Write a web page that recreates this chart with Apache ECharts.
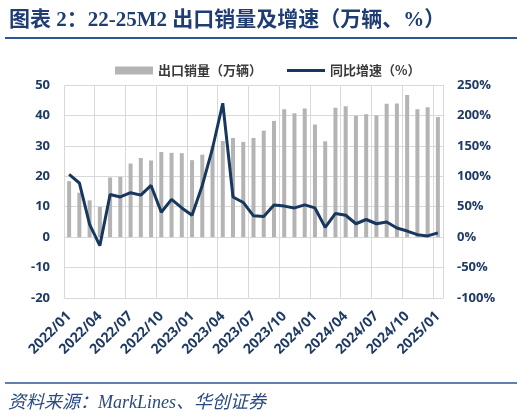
<!DOCTYPE html>
<html style="height: 100%">
<head>
  <meta charset="utf-8">
</head>
<body style="height: 100%; margin: 0">
  <div id="container" style="width: 524px; height: 418px"></div>
  <script type="text/javascript" src="https://cdn.jsdelivr.net/npm/echarts@6/dist/echarts.min.js"></script>
  <script type="text/javascript">
    var months = ['2022/01', '2022/02', '2022/03', '2022/04', '2022/05', '2022/06', '2022/07', '2022/08', '2022/09', '2022/10', '2022/11', '2022/12',
                  '2023/01', '2023/02', '2023/03', '2023/04', '2023/05', '2023/06', '2023/07', '2023/08', '2023/09', '2023/10', '2023/11', '2023/12',
                  '2024/01', '2024/02', '2024/03', '2024/04', '2024/05', '2024/06', '2024/07', '2024/08', '2024/09', '2024/10', '2024/11', '2024/12',
                  '2025/01'];
    // 出口销量（万辆）
    var exportVol = [18.4, 14.6, 12.1, 9.9, 19.6, 19.8, 24.2, 26.0, 25.2, 28.0, 27.7, 27.6,
                     25.3, 27.1, 30.0, 31.6, 32.6, 31.3, 32.6, 35.0, 38.2, 42.0, 40.7, 42.3,
                     37.0, 31.5, 42.5, 43.0, 39.9, 40.4, 40.0, 43.8, 43.9, 46.7, 42.0, 42.7,
                     39.5];
    // 同比增速（%）
    var yoy = [103, 89, 21, -14, 70, 66, 73, 69, 85, 41, 62, 48,
               36, 85, 146, 220, 66, 57, 35, 34, 53, 51, 48, 53,
               48, 16, 39, 36, 22, 29, 22, 25, 15, 10, 4, 2,
               7];

    var navy = '#1f3a64';
    var gridColor = '#d9d9d9';

    var dom = document.getElementById('container');
    var myChart = echarts.init(dom);
    var option = {
        backgroundColor: '#fff',
        animation: false,
        title: {
            text: '图表 2：22-25M2 出口销量及增速（万辆、%）',
            left: 4,
            top: 5,
            textStyle: {
                color: '#1f3d73',
                fontSize: 21,
                fontWeight: 'bold',
                fontFamily: '"Liberation Serif", "Noto Sans CJK SC"'
            }
        },
        graphic: [
            { type: 'line', shape: { x1: 5, y1: 38, x2: 517, y2: 38 }, style: { stroke: '#2f5597', lineWidth: 2 } },
            { type: 'line', shape: { x1: 5, y1: 383, x2: 517, y2: 383 }, style: { stroke: '#2f5597', lineWidth: 1.5 } },
            {
                type: 'text', left: 8, top: 394,
                style: {
                    text: '资料来源：MarkLines、华创证券',
                    fill: '#2a4a80',
                    font: 'italic 18px "Liberation Serif", "Noto Sans CJK SC"'
                }
            }
        ],
        legend: {
            top: 59,
            left: 110,
            itemWidth: 38,
            itemHeight: 8,
            itemGap: 25,
            textStyle: { color: '#3a3a3a', fontSize: 13, fontWeight: 'bold', fontFamily: '"Noto Sans CJK SC"' },
            data: [
                { name: '出口销量（万辆）', icon: 'rect' },
                { name: '同比增速（%）', icon: 'path://M0,0 L40,0 L40,3 L0,3 Z' }
            ]
        },
        grid: { left: 64, right: 81, top: 85, bottom: 120 },
        xAxis: {
            type: 'category',
            data: months,
            boundaryGap: true,
            axisLine: { onZero: false, lineStyle: { color: gridColor } },
            axisTick: { show: false },
            axisLabel: {
                interval: 2,
                rotate: 45,
                margin: 16,
                color: navy,
                fontSize: 14,
                fontWeight: 'bold',
                fontFamily: '"Open Sans"'
            },
            splitLine: { show: true, interval: 2, lineStyle: { color: gridColor } }
        },
        yAxis: [
            {
                type: 'value',
                min: -20, max: 50, interval: 10,
                axisLine: { show: false },
                axisTick: { show: false },
                axisLabel: { color: navy, fontSize: 13, fontWeight: 'bold', margin: 14, fontFamily: '"Open Sans"' },
                splitLine: { lineStyle: { color: gridColor } }
            },
            {
                type: 'value',
                min: -100, max: 250, interval: 50,
                axisLine: { show: false },
                axisTick: { show: false },
                axisLabel: { formatter: '{value}%', color: navy, fontSize: 13, fontWeight: 'bold', margin: 14, fontFamily: '"Open Sans"' },
                splitLine: { show: false }
            }
        ],
        series: [
            {
                name: '出口销量（万辆）',
                type: 'bar',
                data: exportVol,
                barWidth: 4,
                itemStyle: { color: '#b4b4b4' }
            },
            {
                name: '同比增速（%）',
                type: 'line',
                yAxisIndex: 1,
                data: yoy,
                symbol: 'none',
                lineStyle: { color: '#17375e', width: 3 },
                itemStyle: { color: '#17375e' }
            }
        ]
    };
    myChart.setOption(option);
  </script>
</body>
</html>
